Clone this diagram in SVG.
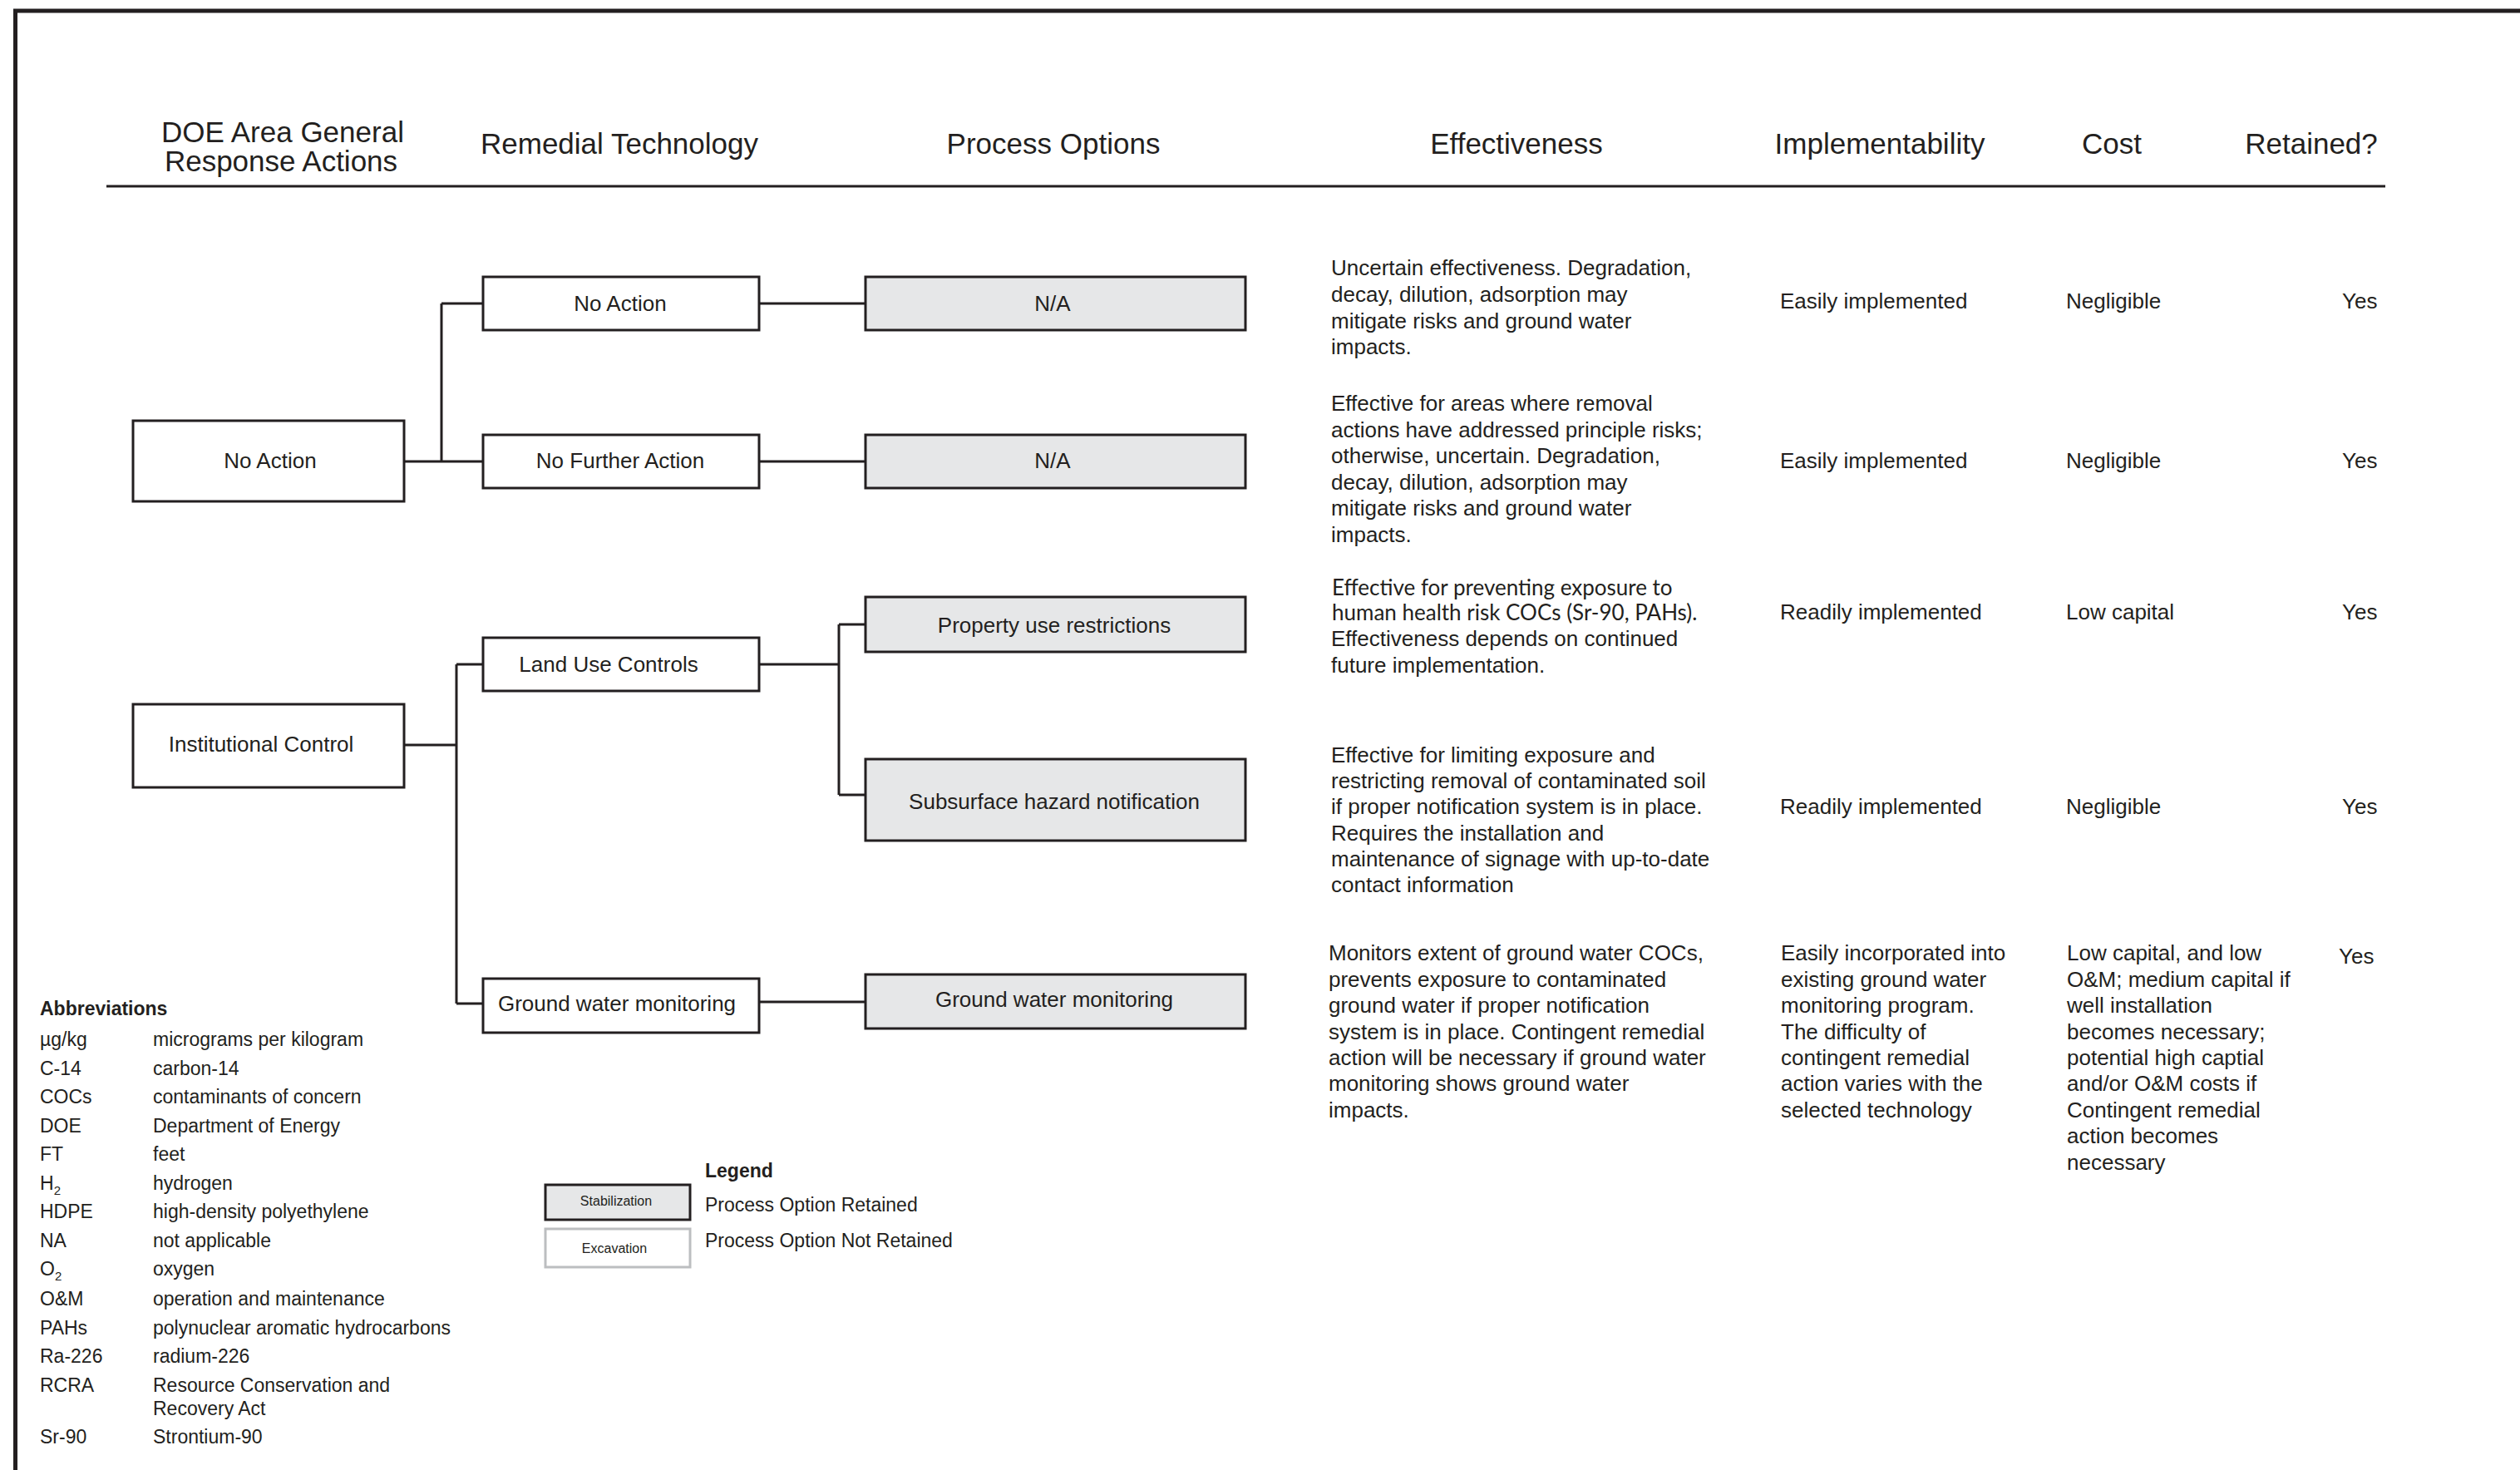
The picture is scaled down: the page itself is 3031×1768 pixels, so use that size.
<svg xmlns="http://www.w3.org/2000/svg" width="3031" height="1768" viewBox="0 0 3031 1768">
<style>
text{font-family:"Liberation Sans",Arial,sans-serif;fill:#231f20}
.h{font-size:35px;text-anchor:middle}
.b{font-size:26px}
.c{text-anchor:middle}
.m{font-family:Lato,"Liberation Sans",sans-serif}
.a{font-size:23px}
.bold{font-weight:bold}
.box{fill:#fff;stroke:#231f20;stroke-width:3}
.po{fill:#e6e7e8;stroke:#231f20;stroke-width:3}
.ln{fill:none;stroke:#231f20;stroke-width:3}
</style>
<rect width="3031" height="1768" fill="#fff"/>
<!-- frame -->
<path d="M18.5,1768 V13 H3031" fill="none" stroke="#231f20" stroke-width="5"/>
<!-- headers -->
<g id="headers">
<text class="h" x="340" y="171">DOE Area General</text>
<text class="h" x="338" y="206">Response Actions</text>
<text class="h" x="745" y="185">Remedial Technology</text>
<text class="h" x="1267" y="185">Process Options</text>
<text class="h" x="1824" y="185">Effectiveness</text>
<text class="h" x="2261" y="185">Implementability</text>
<text class="h" x="2540" y="185">Cost</text>
<text class="h" x="2780" y="185">Retained?</text>
<line x1="128" y1="224" x2="2869" y2="224" stroke="#231f20" stroke-width="3"/>
</g>
<!-- connectors -->
<g id="connectors" class="ln">
<path d="M486,555 H531 M531,365 V555 M531,365 H581 M531,555 H581"/>
<path d="M913,365 H1041 M913,555 H1041"/>
<path d="M486,896 H549 M549,799 V1207 M549,799 H581 M549,1207 H581"/>
<path d="M913,799 H1009 M1009,751 V956 M1009,751 H1041 M1009,956 H1041"/>
<path d="M913,1205 H1041"/>
</g>
<!-- GRA nodes -->
<g id="gra-no-action"><rect class="box" x="160" y="506" width="326" height="97"/><text class="b c" x="325" y="563">No Action</text></g>
<g id="gra-institutional"><rect class="box" x="160" y="847" width="326" height="100"/><text class="b c" x="314" y="904">Institutional Control</text></g>
<!-- Technology nodes -->
<g id="tech-no-action"><rect class="box" x="581" y="333" width="332" height="64"/><text class="b c" x="746" y="374">No Action</text></g>
<g id="tech-no-further-action"><rect class="box" x="581" y="523" width="332" height="64"/><text class="b c" x="746" y="563">No Further Action</text></g>
<g id="tech-land-use"><rect class="box" x="581" y="767" width="332" height="64"/><text class="b c" x="732" y="808">Land Use Controls</text></g>
<g id="tech-gw-monitoring"><rect class="box" x="581" y="1177" width="332" height="65"/><text class="b c" x="742" y="1216">Ground water monitoring</text></g>
<!-- Process option nodes -->
<g id="po-na-1"><rect class="po" x="1041" y="333" width="457" height="64"/><text class="b c" x="1266" y="374">N/A</text></g>
<g id="po-na-2"><rect class="po" x="1041" y="523" width="457" height="64"/><text class="b c" x="1266" y="563">N/A</text></g>
<g id="po-property"><rect class="po" x="1041" y="718" width="457" height="66"/><text class="b c" x="1268" y="761">Property use restrictions</text></g>
<g id="po-subsurface"><rect class="po" x="1041" y="913" width="457" height="98"/><text class="b c" x="1268" y="973">Subsurface hazard notification</text></g>
<g id="po-gw-monitoring"><rect class="po" x="1041" y="1172" width="457" height="65"/><text class="b c" x="1268" y="1211">Ground water monitoring</text></g>
<!-- Effectiveness -->
<g id="effectiveness" class="b">
<text x="1601" y="331">Uncertain effectiveness. Degradation,</text>
<text x="1601" y="363">decay, dilution, adsorption may</text>
<text x="1601" y="395">mitigate risks and ground water</text>
<text x="1601" y="426">impacts.</text>
<text x="1601" y="494">Effective for areas where removal</text>
<text x="1601" y="526">actions have addressed principle risks;</text>
<text x="1601" y="557">otherwise, uncertain. Degradation,</text>
<text x="1601" y="589">decay, dilution, adsorption may</text>
<text x="1601" y="620">mitigate risks and ground water</text>
<text x="1601" y="652">impacts.</text>
<text class="m" x="1602" y="716">Effective for preventing exposure to</text>
<text class="m" x="1602" y="746">human health risk COCs (Sr-90, PAHs).</text>
<text x="1601" y="777">Effectiveness depends on continued</text>
<text x="1601" y="809">future implementation.</text>
<text x="1601" y="917">Effective for limiting exposure and</text>
<text x="1601" y="948">restricting removal of contaminated soil</text>
<text x="1601" y="979">if proper notification system is in place.</text>
<text x="1601" y="1011">Requires the installation and</text>
<text x="1601" y="1042">maintenance of signage with up-to-date</text>
<text x="1601" y="1073">contact information</text>
<text x="1598" y="1155">Monitors extent of ground water COCs,</text>
<text x="1598" y="1187">prevents exposure to contaminated</text>
<text x="1598" y="1218">ground water if proper notification</text>
<text x="1598" y="1250">system is in place. Contingent remedial</text>
<text x="1598" y="1281">action will be necessary if ground water</text>
<text x="1598" y="1312">monitoring shows ground water</text>
<text x="1598" y="1344">impacts.</text>
</g>
<!-- Implementability -->
<g id="implementability" class="b">
<text x="2141" y="371">Easily implemented</text>
<text x="2141" y="563">Easily implemented</text>
<text x="2141" y="745">Readily implemented</text>
<text x="2141" y="979">Readily implemented</text>
<text x="2142" y="1155">Easily incorporated into</text>
<text x="2142" y="1187">existing ground water</text>
<text x="2142" y="1218">monitoring program.</text>
<text x="2142" y="1250">The difficulty of</text>
<text x="2142" y="1281">contingent remedial</text>
<text x="2142" y="1312">action varies with the</text>
<text x="2142" y="1344">selected technology</text>
</g>
<!-- Cost -->
<g id="cost" class="b">
<text x="2485" y="371">Negligible</text>
<text x="2485" y="563">Negligible</text>
<text x="2485" y="745">Low capital</text>
<text x="2485" y="979">Negligible</text>
<text x="2486" y="1155">Low capital, and low</text>
<text x="2486" y="1187">O&amp;M; medium capital if</text>
<text x="2486" y="1218">well installation</text>
<text x="2486" y="1250">becomes necessary;</text>
<text x="2486" y="1281">potential high captial</text>
<text x="2486" y="1312">and/or O&amp;M costs if</text>
<text x="2486" y="1344">Contingent remedial</text>
<text x="2486" y="1375">action becomes</text>
<text x="2486" y="1407">necessary</text>
</g>
<!-- Retained -->
<g id="retained" class="b">
<text x="2817" y="371">Yes</text>
<text x="2817" y="563">Yes</text>
<text x="2817" y="745">Yes</text>
<text x="2817" y="979">Yes</text>
<text x="2813" y="1159">Yes</text>
</g>
<!-- Abbreviations -->
<g id="abbreviations" class="a">
<text class="bold" x="48" y="1221">Abbreviations</text>
<text x="48" y="1258">µg/kg</text><text x="184" y="1258">micrograms per kilogram</text>
<text x="48" y="1293">C-14</text><text x="184" y="1293">carbon-14</text>
<text x="48" y="1327">COCs</text><text x="184" y="1327">contaminants of concern</text>
<text x="48" y="1362">DOE</text><text x="184" y="1362">Department of Energy</text>
<text x="48" y="1396">FT</text><text x="184" y="1396">feet</text>
<text x="48" y="1431">H<tspan font-size="15" dy="6">2</tspan></text><text x="184" y="1431">hydrogen</text>
<text x="48" y="1465">HDPE</text><text x="184" y="1465">high-density polyethylene</text>
<text x="48" y="1500">NA</text><text x="184" y="1500">not applicable</text>
<text x="48" y="1534">O<tspan font-size="15" dy="6">2</tspan></text><text x="184" y="1534">oxygen</text>
<text x="48" y="1570">O&amp;M</text><text x="184" y="1570">operation and maintenance</text>
<text x="48" y="1605">PAHs</text><text x="184" y="1605">polynuclear aromatic hydrocarbons</text>
<text x="48" y="1639">Ra-226</text><text x="184" y="1639">radium-226</text>
<text x="48" y="1674">RCRA</text><text x="184" y="1674">Resource Conservation and</text>
<text x="184" y="1702">Recovery Act</text>
<text x="48" y="1736">Sr-90</text><text x="184" y="1736">Strontium-90</text>
</g>
<!-- Legend -->
<g id="legend">
<text class="a bold" x="848" y="1416">Legend</text>
<rect x="656" y="1425" width="174" height="42" fill="#e6e7e8" stroke="#231f20" stroke-width="3"/>
<text class="c" x="741" y="1450" font-size="16">Stabilization</text>
<rect x="656" y="1478" width="174" height="46" fill="#fff" stroke="#bcbec0" stroke-width="3"/>
<text class="c" x="739" y="1507" font-size="16">Excavation</text>
<text class="a" x="848" y="1457">Process Option Retained</text>
<text class="a" x="848" y="1500">Process Option Not Retained</text>
</g>
</svg>
